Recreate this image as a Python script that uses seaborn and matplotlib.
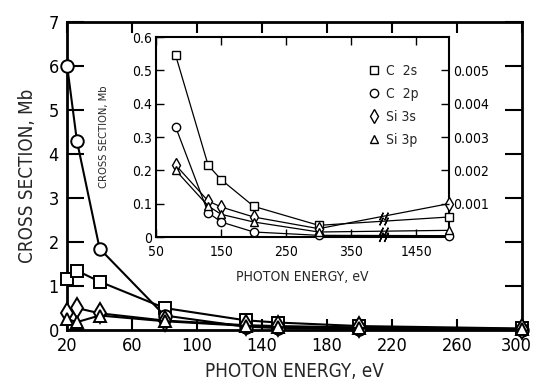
import seaborn as sns
import matplotlib.pyplot as plt
from matplotlib.lines import Line2D
from matplotlib.transforms import ScaledTranslation

# photon energies, eV
energy_main = [20, 26, 40, 80, 130, 150, 200, 300]
energy_inset = [80, 130, 150, 200, 300, 1500]

series_labels = ["C  2s", "C  2p", "Si 3s", "Si 3p"]
series_markers = ["s", "o", "d", "^"]

# cross sections, Mb - main panel
c2s_main = [1.15, 1.35, 1.1, 0.5, 0.22, 0.17, 0.09, 0.035]
c2p_main = [6.0, 4.3, 1.85, 0.33, 0.075, 0.045, 0.015, 0.005]
si3s_main = [0.38, 0.5, 0.38, 0.215, 0.11, 0.09, 0.06, 0.025]
si3p_main = [0.25, 0.18, 0.33, 0.2, 0.095, 0.066, 0.045, 0.015]

# inset, Mb (the 1500 eV value is read on the right-hand axis)
c2s_inset = [0.545, 0.215, 0.172, 0.092, 0.035, 0.0006]
c2p_inset = [0.33, 0.073, 0.045, 0.015, 0.005, 0.00004]
si3s_inset = [0.216, 0.108, 0.09, 0.06, 0.025, 0.001]
si3p_inset = [0.2, 0.093, 0.068, 0.045, 0.015, 0.0002]

inset_ticks = [50, 150, 250, 350, 1450]
right_ticks = [0.001, 0.002, 0.003, 0.004, 0.005]
RIGHT_SCALE = 100  # right axis = left axis / 100
BREAK_LO, BREAK_HI = 400, 1400


def squeeze(e):
    # broken energy axis: 350 ... // ... 1450
    return e if e <= BREAK_LO else e - (BREAK_HI - BREAK_LO)


sns.set_theme(style="ticks")
plt.rcParams['font.family'] = ['DejaVu Sans']
plt.rcParams['font.stretch'] = 'condensed'

fig = plt.figure(figsize=(5.33, 3.86), dpi=100)

# ---- main panel
ax = fig.add_axes([0.126, 0.145, 0.853, 0.798])
main_series = [c2s_main, c2p_main, si3s_main, si3p_main]
for vals, mk in zip(main_series, series_markers):
    sns.lineplot(x=energy_main, y=vals, ax=ax, color="black", lw=1.5,
                 marker=mk, ms=10 if mk == "d" else 9, mfc="white",
                 mec="black", mew=1.4, clip_on=False, zorder=3,
                 legend=False, estimator=None, sort=False)
ax.set_xlim(20, 300)
ax.set_ylim(0, 7)
ax.set_xticks(range(20, 301, 40))
ax.set_yticks(range(0, 8))
ax.tick_params(axis="both", direction="in", top=True, right=True,
               width=1.5, labelsize=13, colors="black")
ax.tick_params(axis="y", length=12, pad=6)
ax.tick_params(axis="x", length=8, pad=5)
for sp in ax.spines.values():
    sp.set_linewidth(2)
    sp.set_color("black")
ax.set_xlabel("PHOTON ENERGY, eV", fontsize=13.5, labelpad=5)
ax.set_ylabel("CROSS SECTION, Mb", fontsize=13.5, labelpad=8)
# keep the last energy label inside the figure
last = ax.get_xticklabels()[-1]
last.set_transform(last.get_transform() + ScaledTranslation(-5 / 100, 0, fig.dpi_scale_trans))

# ---- inset
axi = fig.add_axes([0.293, 0.386, 0.549, 0.518])
inset_series = [c2s_inset, c2p_inset, si3s_inset, si3p_inset]
xs = [squeeze(e) for e in energy_inset]
for vals, mk in zip(inset_series, series_markers):
    ys = [v * RIGHT_SCALE if e > BREAK_LO else v for e, v in zip(energy_inset, vals)]
    sns.lineplot(x=xs, y=ys, ax=axi, color="black", lw=0.9,
                 marker=mk, ms=7 if mk == "d" else 6, mfc="white",
                 mec="black", mew=1.0, clip_on=False, zorder=3,
                 legend=False, estimator=None, sort=False)
    # break marks on the segment that crosses the gap
    frac = (BREAK_LO - xs[-2]) / (xs[-1] - xs[-2])
    yb = ys[-2] + frac * (ys[-1] - ys[-2])
    axi.plot([BREAK_LO - 4, BREAK_LO + 4], [yb, yb], ls="none",
             marker=(2, 2, -25), ms=6, mec="black", mew=1.0, zorder=4)
axi.plot([BREAK_LO - 4, BREAK_LO + 4], [0, 0], ls="none",
         marker=(2, 2, -25), ms=7, mec="black", mew=1.0, zorder=4,
         clip_on=False)

axi.set_xlim(50, squeeze(1500))
axi.set_ylim(0, 0.6)
axi.set_xticks([squeeze(t) for t in inset_ticks])
axi.set_xticklabels([str(t) for t in inset_ticks])
axi.set_yticks([0, 0.1, 0.2, 0.3, 0.4, 0.5, 0.6])
axi.set_yticklabels(["0", "0.1", "0.2", "0.3", "0.4", "0.5", "0.6"])
axi.tick_params(axis="both", direction="in", top=True, width=1.0,
                labelsize=10, colors="black", length=6, pad=3)
axi.tick_params(axis="x", pad=6)
for sp in axi.spines.values():
    sp.set_linewidth(1.5)
    sp.set_color("black")
axi.set_xlabel("PHOTON ENERGY, eV", fontsize=10, labelpad=8)
axi.set_ylabel("CROSS SECTION, Mb", fontsize=8)
axi.yaxis.set_label_coords(-0.16, 0.5)

axr = axi.twinx()
axr.set_ylim(0, 0.6 / RIGHT_SCALE)
axr.set_yticks(right_ticks)
axr.set_yticklabels([f"{t:.3f}" for t in right_ticks])
axr.tick_params(axis="y", direction="in", width=1.0, length=6,
                labelsize=10, colors="black", pad=3)
for sp in axr.spines.values():
    sp.set_visible(False)

handles = [Line2D([], [], ls="none", marker=mk, ms=7 if mk == "d" else 6,
                  mfc="white", mec="black", mew=1.0)
           for mk in series_markers]
axi.legend(handles, series_labels, loc="upper left",
           bbox_to_anchor=(0.70, 0.9), frameon=False, fontsize=10,
           handlelength=0.8, handletextpad=0.5, labelspacing=0.65,
           borderpad=0)

fig.savefig("out.png", dpi=100)
